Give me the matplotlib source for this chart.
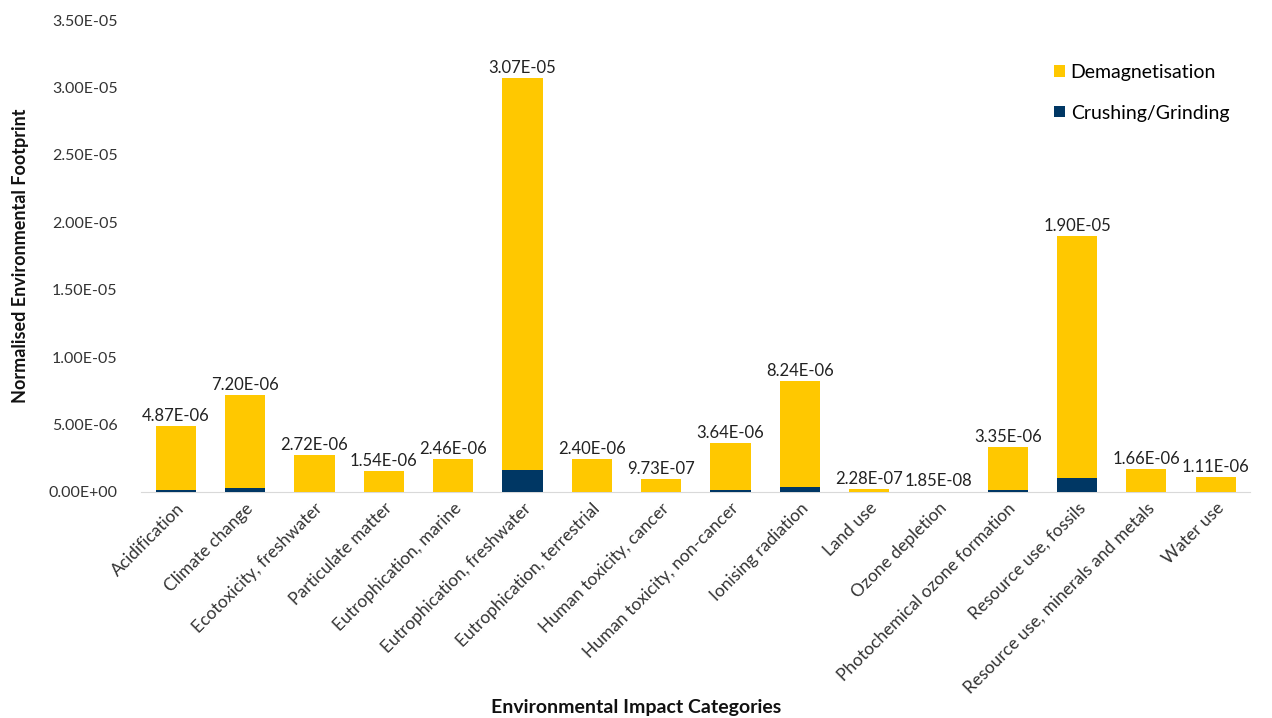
import matplotlib
matplotlib.use("Agg")
import matplotlib.pyplot as plt
import numpy as np

plt.rcParams["font.family"] = ["Lato", "DejaVu Sans"]

# ── Data ──
categories = [
    "Acidification", "Climate change", "Ecotoxicity, freshwater",
    "Particulate matter", "Eutrophication, marine", "Eutrophication, freshwater",
    "Eutrophication, terrestrial", "Human toxicity, cancer",
    "Human toxicity, non-cancer", "Ionising radiation", "Land use",
    "Ozone depletion", "Photochemical ozone formation", "Resource use, fossils",
    "Resource use, minerals and metals", "Water use",
]
totals = [4.87e-6, 7.20e-6, 2.72e-6, 1.54e-6, 2.46e-6, 3.07e-5, 2.40e-6, 9.73e-7,
          3.64e-6, 8.24e-6, 2.28e-7, 1.85e-8, 3.35e-6, 1.90e-5, 1.66e-6, 1.11e-6]
total_labels = ["4.87E-06", "7.20E-06", "2.72E-06", "1.54E-06", "2.46E-06", "3.07E-05",
                "2.40E-06", "9.73E-07", "3.64E-06", "8.24E-06", "2.28E-07", "1.85E-08",
                "3.35E-06", "1.90E-05", "1.66E-06", "1.11E-06"]
crushing = [1.5e-7, 2.7e-7, 1.0e-8, 5.0e-9, 1.0e-8, 1.6e-6, 1.0e-8, 5.0e-9,
            1.0e-7, 3.5e-7, 1.0e-9, 1.0e-10, 1.0e-7, 1.0e-6, 1.0e-8, 5.0e-9]
demag = [t - c for t, c in zip(totals, crushing)]

yellow = "#FFC800"
navy = "#003764"

fig = plt.figure(figsize=(12.72, 7.18), dpi=100)
ax = fig.add_axes([0.111, 0.315, 0.872, 0.657])

x = np.arange(len(categories))
w = 0.58
b1 = ax.bar(x, crushing, w, color=navy, label="Crushing/Grinding", zorder=3)
b2 = ax.bar(x, demag, w, bottom=crushing, color=yellow, label="Demagnetisation", zorder=3)

# total value above each stack
for xi, t, lab in zip(x, totals, total_labels):
    ax.annotate(lab, (xi, t), xytext=(0, 1.5), textcoords="offset points",
                ha="center", va="bottom", fontsize=12, color="#222222")

ax.set_xlim(-0.5, len(categories) - 0.5)
ax.set_ylim(0, 3.5e-5)
yt = np.arange(0, 3.51e-5, 5e-6)
ax.set_yticks(yt)
ax.set_yticklabels([f"{v:.2E}" for v in yt], fontsize=11.5, color="#333333")
ax.set_xticks(x)
ax.set_xticklabels(categories, rotation=45, ha="right", rotation_mode="anchor",
                   fontsize=12.5, color="#333333")
ax.tick_params(axis="y", length=0, pad=17)
ax.tick_params(axis="x", length=0, pad=6)

for s in ["top", "right", "left"]:
    ax.spines[s].set_visible(False)
ax.spines["bottom"].set_color("#d9d9d9")

ax.set_ylabel("Normalised Environmental Footprint", fontsize=13, fontweight="bold",
              color="#111111", labelpad=14)
fig.text(0.5, 0.003, "Environmental Impact Categories", ha="center", va="bottom",
         fontsize=14, fontweight="bold", color="#111111")

ax.legend(handles=[b2, b1], loc="upper left", bbox_to_anchor=(0.815, 0.935),
          bbox_transform=fig.transFigure, frameon=False, fontsize=14,
          handlelength=0.55, handleheight=0.55, handletextpad=0.3, labelspacing=1.2)

fig.savefig("out.png", dpi=100, facecolor="white")
